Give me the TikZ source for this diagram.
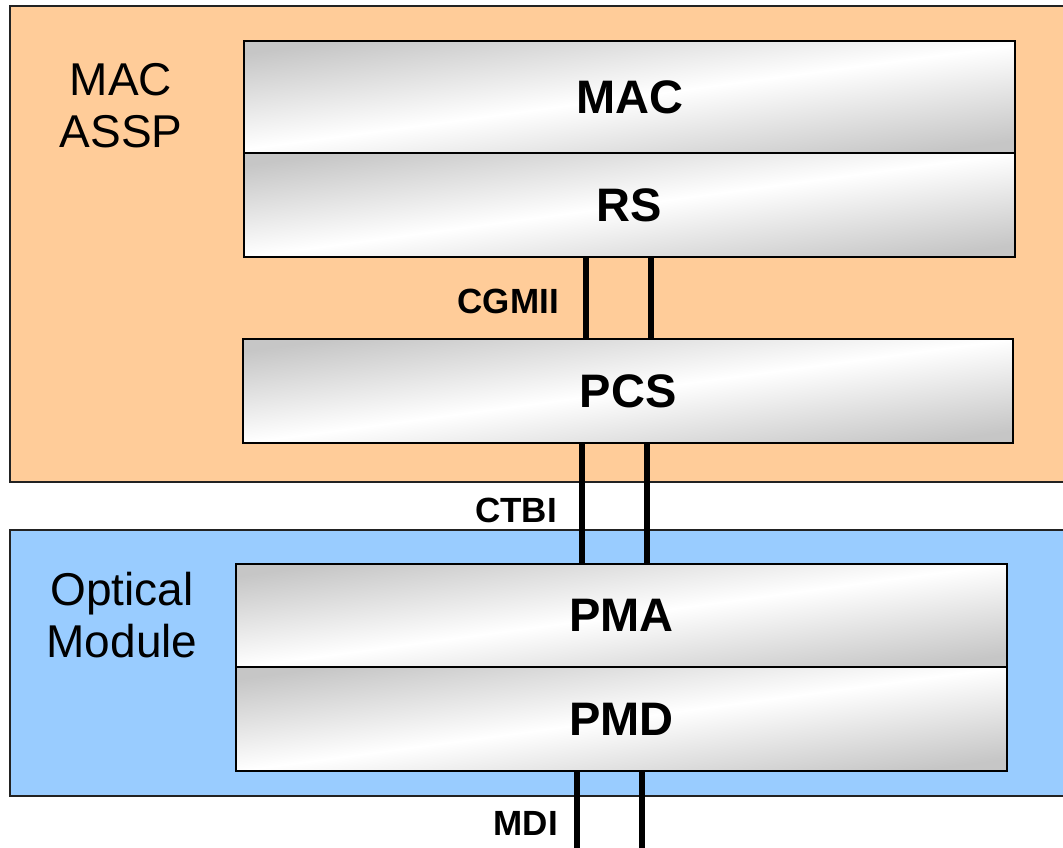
\documentclass[tikz,border=0pt]{standalone}
\usepackage{fontspec}
\setmainfont{Liberation Sans}
\definecolor{asspfill}{HTML}{FFCC99}
\definecolor{optfill}{HTML}{99CCFF}
\definecolor{edge}{HTML}{222222}
\begin{document}
\begin{tikzpicture}[x=1pt,y=-1pt,
  region/.style={draw=edge, line width=2pt},
  layerbox/.style={draw=black, line width=2.2pt, top color=gray!45, bottom color=gray!45,
    middle color=white, shading angle=7.7, inner sep=0pt, anchor=north west,
    font=\fontsize{47}{50}\selectfont\bfseries},
  biglabel/.style={align=center, font=\fontsize{46}{52}\selectfont, inner sep=0pt},
  iflabel/.style={anchor=base east, inner sep=0pt, font=\fontsize{35}{40}\selectfont\bfseries},
  bus/.style={line width=5.5pt, black}
]
\useasboundingbox (0,0) rectangle (1063,848);
\fill[white] (0,0) rectangle (1063,848);
% regions
\draw[region, fill=asspfill] (10,6) rectangle (1080,482);
\draw[region, fill=optfill] (10,530) rectangle (1080,796);
% layer boxes
\node[layerbox, minimum width=771pt, minimum height=112pt] (mac) at (243,40) {MAC};
\node[layerbox, minimum width=771pt, minimum height=104pt] (rs) at (243,152) {RS};
\node[layerbox, minimum width=770pt, minimum height=104pt] (pcs) at (242,338) {PCS};
\node[layerbox, minimum width=771pt, minimum height=103pt] (pma) at (235,563) {PMA};
\node[layerbox, minimum width=771pt, minimum height=104pt] (pmd) at (235,666) {PMD};
% region labels
\node[biglabel] (assp) at (121,106) {MAC\\ASSP};
\node[biglabel] (optical) at (122,615) {Optical\\Module};
% interfaces
\draw[bus] (rs.south -| 586,0) -- (pcs.north -| 586,0);
\draw[bus] (rs.south -| 651,0) -- (pcs.north -| 651,0);
\draw[bus] (pcs.south -| 582,0) -- (pma.north -| 582,0);
\draw[bus] (pcs.south -| 647,0) -- (pma.north -| 647,0);
\coordinate (mdiA) at (577,850);
\coordinate (mdiB) at (642,850);
\draw[bus] (pmd.south -| mdiA) -- (mdiA);
\draw[bus] (pmd.south -| mdiB) -- (mdiB);
\node[iflabel] (cgmii) at (559,313) {CGMII};
\node[iflabel] (ctbi) at (557,522) {CTBI};
\node[iflabel] (mdi) at (558,835) {MDI};
\end{tikzpicture}
\end{document}
